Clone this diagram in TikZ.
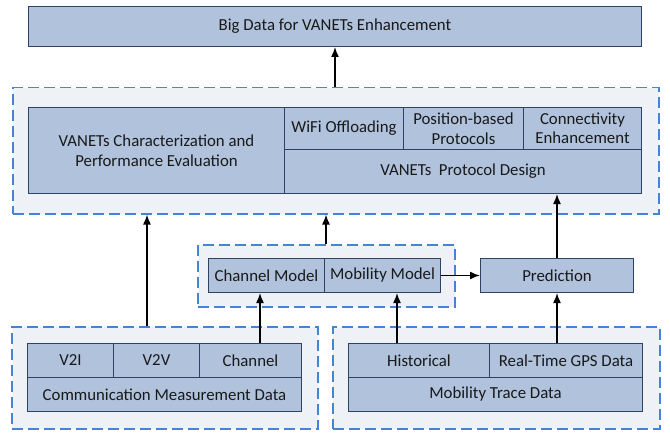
\documentclass[tikz,border=0pt]{standalone}
\usepackage{fontspec}
\setmainfont{Carlito}
\usetikzlibrary{arrows.meta}
\definecolor{boxfill}{RGB}{176,194,220}
\definecolor{boxline}{RGB}{48,66,98}
\definecolor{contfill}{RGB}{238,241,246}
\definecolor{contline}{RGB}{70,130,214}
\tikzset{
  box/.style={draw=boxline, fill=boxfill, line width=1pt, anchor=north west, inner sep=1pt, align=center, font=\fontsize{16.8}{19.5}\selectfont, text=black!90},
  cont/.style={draw=contline, fill=contfill, line width=1.5pt, dash pattern=on 11pt off 5pt, anchor=north west, inner sep=0pt},
  arr/.style={line width=1.5pt, -{Latex[length=10pt,width=8pt]}},
}
\begin{document}
\begin{tikzpicture}[x=1pt,y=-1pt]
\useasboundingbox (0,0) rectangle (670,436);
% containers
\node[cont, minimum width=646, minimum height=126] (c1) at (12,87) {};
\node[cont, minimum width=257, minimum height=62] (c2) at (197,244) {};
\node[cont, minimum width=306, minimum height=102] (c3) at (11,326) {};
\node[cont, minimum width=327, minimum height=102] (c4) at (332,326) {};
% boxes
\node[box, minimum width=613, minimum height=40] (top) at (28,6) {Big Data for VANETs Enhancement};
\node[box, minimum width=256, minimum height=86] (char) at (28,107) {VANETs Characterization and\\Performance Evaluation};
\node[box, minimum width=119, minimum height=42] (wifi) at (284,107) {WiFi Offloading};
\node[box, minimum width=120, minimum height=42] (pos) at (403,107) {Position-based\\Protocols};
\node[box, minimum width=118, minimum height=42] (conn) at (523,107) {Connectivity\\Enhancement};
\node[box, minimum width=357, minimum height=44] (proto) at (284,149) {VANETs\ \ Protocol Design};
\node[box, minimum width=116, minimum height=34] (chm) at (208,258) {Channel Model};
\node[box, minimum width=116, minimum height=34] (mom) at (324,258) {Mobility Model};
\node[box, minimum width=153, minimum height=34] (pred) at (480,258) {Prediction};
\node[box, minimum width=86, minimum height=34] (v2i) at (27,343) {V2I};
\node[box, minimum width=86, minimum height=34] (v2v) at (113,343) {V2V};
\node[box, minimum width=102, minimum height=34] (chan) at (199,343) {Channel};
\node[box, minimum width=274, minimum height=34] (cmd) at (27,377) {Communication Measurement Data};
\node[box, minimum width=141, minimum height=34] (hist) at (348,343) {Historical};
\node[box, minimum width=153, minimum height=34] (rt) at (489,343) {Real-Time GPS Data};
\node[box, minimum width=294, minimum height=34] (mtd) at (348,377) {Mobility Trace Data};
% arrows
\draw[arr] (335,0 |- c1.north) -- (335,0 |- top.south);
\draw[arr] (147,0 |- c3.north) -- (147,0 |- c1.south);
\draw[arr] (326,0 |- c2.north) -- (326,0 |- c1.south);
\draw[arr] (pred.north) -- (pred.north |- proto.south);
\draw[arr] (mom.east) -- (pred.west);
\draw[arr] (260,0 |- chan.north) -- (260,0 |- chm.south);
\draw[arr] (397,0 |- hist.north) -- (397,0 |- mom.south);
\draw[arr] (557,0 |- rt.north) -- (557,0 |- pred.south);
\end{tikzpicture}
\end{document}
